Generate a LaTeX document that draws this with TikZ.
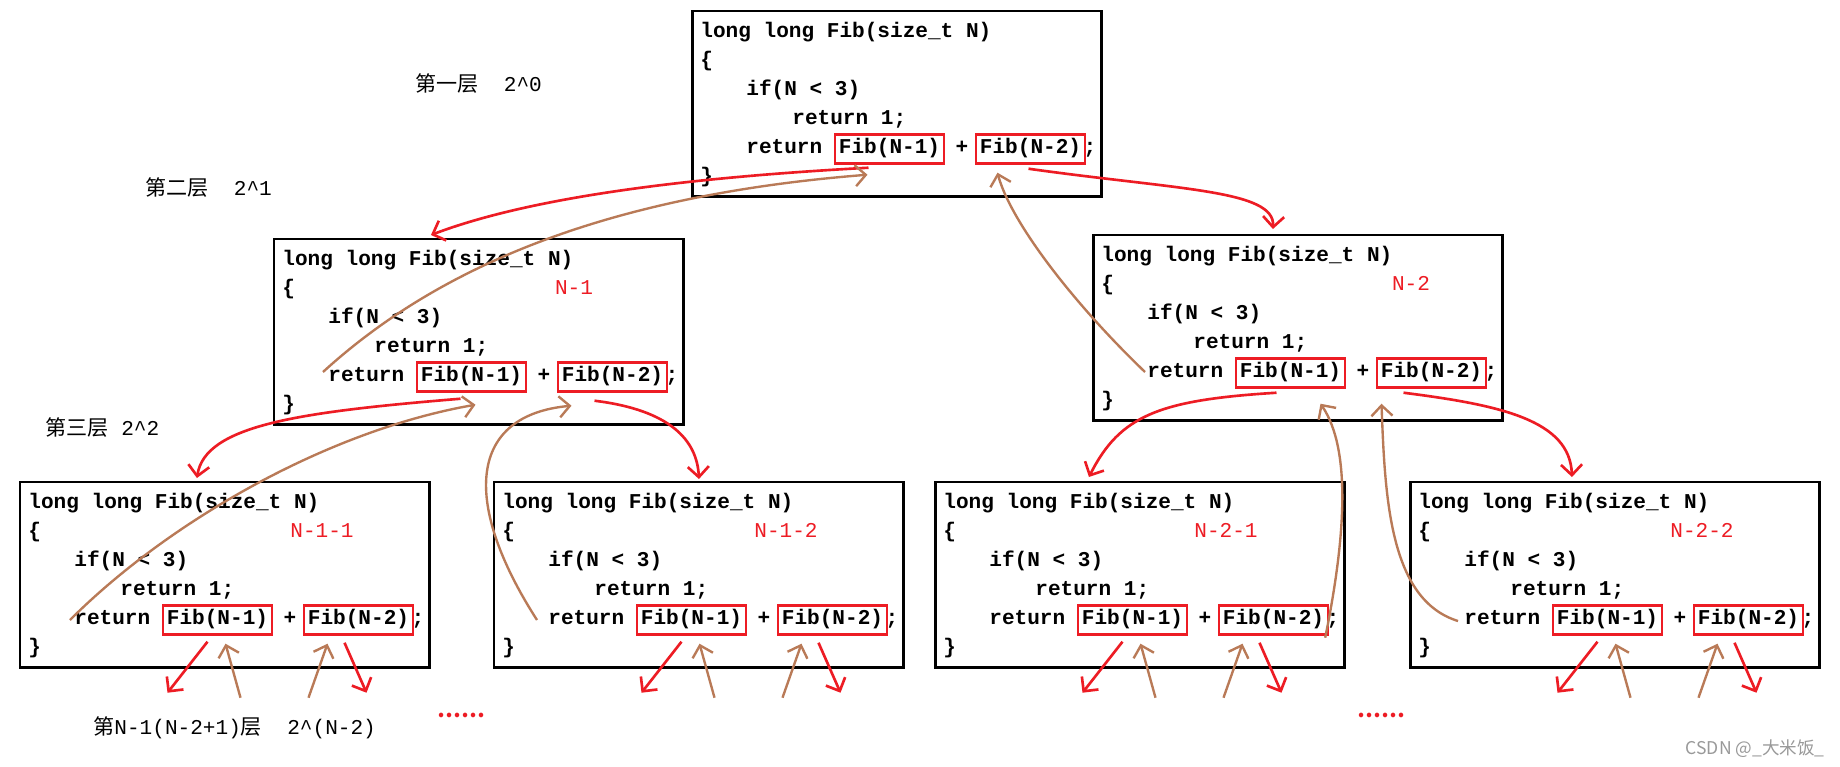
\documentclass[tikz,border=0pt]{standalone}
\usepackage{fontspec}
\setmainfont{Liberation Mono}
\newfontfamily\cjk{Noto Sans CJK SC}
\usetikzlibrary{arrows.meta,calc}

\definecolor{paintred}{RGB}{237,28,36}
\definecolor{paintbrown}{RGB}{185,122,87}

\begin{document}
\begin{tikzpicture}[x=0.02cm, y=-0.02cm,
    codebox/.style={draw, line width=1.7pt, minimum width=233.3pt, minimum height=105.8pt,
        anchor=north west, inner sep=0pt, outer sep=0pt},
    code/.style={font=\fontsize{12}{14}\selectfont\bfseries, inner sep=0pt, anchor=west,
        text height=8pt, text depth=2.5pt},
    callbox/.style={code, anchor=center, draw=paintred, line width=1.4pt,
        minimum width=62pt, minimum height=16.5pt},
    tag/.style={code, anchor=center, text=paintred, font=\fontsize{12}{14}\selectfont},
    layer/.style={font=\fontsize{12}{14}\selectfont, anchor=west, inner sep=0pt},
    callarrow/.style={draw=paintred, line width=1.5pt, -{Straight Barb[length=6pt,width=12pt]}},
    backarrow/.style={draw=paintbrown, line width=1.35pt, -{Straight Barb[length=6pt,width=12pt]}}]

    \useasboundingbox (0,0) rectangle (1840,767);
    \fill[white] (0,0) rectangle (1840,767);

    % Draw the code boxes
    \foreach \name/\x/\y in {T/692/11, L1/274/239, R1/1093/235, LL/20/482, LR/494/482, RL/935/482, RR/1410/482}{
        \node[codebox] (\name) at (\x,\y) {};
        \node[code] (\name-0) at (\x+8,\y+22) {long long Fib(size\_t N)};
        \node[code] (\name-1) at (\x+8,\y+51) {\{};
        \node[code] (\name-2) at (\x+54,\y+80) {if(N < 3)};
        \node[code] (\name-3) at (\x+100,\y+109) {return 1;};
        \node[code] (\name-r) at (\x+54,\y+138) {return};
        \node[callbox] (\name-a) at (\x+197.5,\y+138) {Fib(N-1)};
        \node[code, anchor=center] (\name-p) at (\x+270,\y+138) {+};
        \node[callbox] (\name-b) at (\x+338.5,\y+138) {Fib(N-2)};
        \node[code, anchor=center] (\name-s) at (\x+398,\y+138) {;};
        \node[code] (\name-5) at (\x+8,\y+167) {\}};
    }

    % Red tags
    \foreach \name/\lbl/\lx in {L1/N-1/300, R1/N-2/318, LL/N-1-1/302, LR/N-1-2/292, RL/N-2-1/291, RR/N-2-2/292}
        \node[tag] (\name-t) at ($(\name.north west)+(\lx,51)$) {\lbl};

    % Layer labels
    \node[layer] (lay1) at (415,84) {{\cjk 第一层}\ \ 2\textasciicircum 0};
    \node[layer] (lay2) at (145,188) {{\cjk 第二层}\ \ 2\textasciicircum 1};
    \node[layer] (lay3) at (45,428) {{\cjk 第三层}\ 2\textasciicircum 2};
    \node[layer] (layn) at (93,728) {{\cjk 第}N-1(N-2+1){\cjk 层}\ \ 2\textasciicircum (N-2)};

    % Dots and watermark
    \node[layer, anchor=center, text=paintred, font=\cjk\fontsize{12}{14}\selectfont\bfseries] (more1) at (461,715) {……};
    \node[layer, anchor=center, text=paintred, font=\cjk\fontsize{12}{14}\selectfont\bfseries] (more2) at (1381,715) {……};
    \node[anchor=east, inner sep=0pt, text=black!40, font=\cjk\fontsize{10}{12}\selectfont] (mark) at (1825,749) {CSDN @\_大米饭\_};

    % Calls (red)
    \draw[callarrow] ($(T-a.south)+(-21,3)$) .. controls (640,180) and (510,205) .. ($(L1.north)+(-48,-4)$);
    \draw[callarrow] ($(T-b.south)+(-2,4)$) .. controls (1180,190) and (1275,190) .. ($(R1.north)+(-25,-6)$);
    \draw[callarrow] ($(L1-a.south)+(-11,6)$) .. controls (300,412) and (205,425) .. ($(LL.north)+(-28,-4)$);
    \draw[callarrow] ($(L1-b.south)+(-18,8)$) .. controls (670,410) and (697,440) .. ($(LR.north)+(0,-3)$);
    \draw[callarrow] ($(R1-a.south)+(-14,4)$) .. controls (1160,400) and (1120,415) .. ($(RL.north)+(-51,-5)$);
    \draw[callarrow] ($(R1-b.south)+(-28,4)$) .. controls (1500,405) and (1570,420) .. ($(RR.north)+(-43,-5)$);

    % Returns (brown)
    \draw[backarrow] ($(L1-r.west)+(-5,-5)$) .. controls (440,265) and (610,195) .. ($(T-a.south)+(-22,10)$);
    \draw[backarrow] ($(LL-r.west)+(-4,0)$) .. controls (170,520) and (330,430) .. ($(L1-a.south)+(4,12)$);
    \draw[backarrow] ($(LR-r.west)+(-11,0)$) .. controls (460,500) and (470,415) .. ($(L1-b.south)+(-41,13)$);
    \draw[backarrow] ($(R1-r.west)+(-2,-1)$) .. controls (1070,300) and (1010,220) .. ($(T-b.south)+(-33,8)$);
    \draw[backarrow] ($(RL-b.south east)+(-4,2)$) .. controls (1345,540) and (1352,450) .. ($(R1-a.south)+(30,15)$);
    \draw[backarrow] ($(RR-r.west)+(-6,1)$) .. controls (1390,600) and (1385,500) .. ($(R1-b.south)+(-50,15)$);

    % Next level below the last row
    \foreach \name in {LL,LR,RL,RR}{
        \draw[callarrow] ($(\name-a.south)+(-10,6)$) -- ($(\name-a.south)+(-50,57)$);
        \draw[backarrow] ($(\name-a.south)+(23,62)$) -- ($(\name-a.south)+(8,8)$);
        \draw[backarrow] ($(\name-b.south)+(-50,62)$) -- ($(\name-b.south)+(-31,8)$);
        \draw[callarrow] ($(\name-b.south)+(-14,7)$) -- ($(\name-b.south)+(8,57)$);
    }

\end{tikzpicture}
\end{document}
